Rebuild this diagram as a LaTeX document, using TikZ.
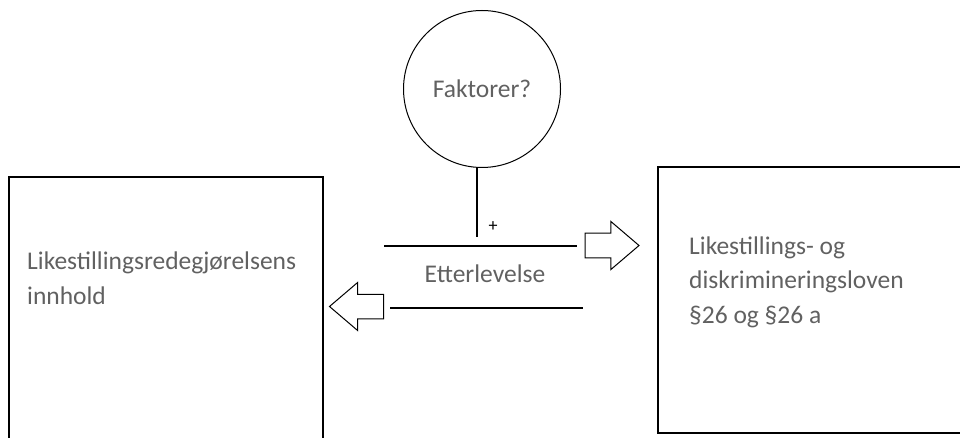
\documentclass[tikz,border=0pt]{standalone}
\usepackage{fontspec}
\setmainfont{Carlito}
\usetikzlibrary{shapes.arrows}
\begin{document}
\begin{tikzpicture}[x=1pt,y=-1pt,
  txt/.style={text=black!62,font=\fontsize{25.5}{34.5}\selectfont,inner sep=0pt,align=left},
  box/.style={draw,line width=1.2pt,inner sep=0pt},
  strek/.style={line width=1.2pt},
  blokkpil/.style={draw,line width=1pt,single arrow,inner xsep=0pt,inner ysep=11.75pt,minimum height=54pt,
    single arrow head extend=11.75pt,single arrow tip angle=81,outer sep=0pt}]
  \useasboundingbox(0,0)rectangle(960,438);
  \clip(0,0)rectangle(960,438);
  % boksene
  \node[box,minimum width=314pt,minimum height=300pt] (redeg) at (166,327) {};
  \node[box,minimum width=342pt,minimum height=266pt] (lov) at (829,300) {};
  \node[txt,anchor=base west] (redegtxt) at (27,304) {Likestillingsredegjørelsens\\innhold};
  \node[txt,anchor=base west] (lovtxt) at (689,323) {Likestillings- og\\diskrimineringsloven\\§26 og §26 a};
  % faktorer
  \node[draw,circle,line width=1pt,minimum size=157pt,txt,align=center] (faktor) at (482,89) {Faktorer?};
  \coordinate (stamme) at (477,237);
  \draw[strek] (stamme |- faktor.south) -- (stamme);
  \node[font=\fontsize{18}{18}\selectfont,inner sep=0pt] (pluss) at (493,227) {+};
  % etterlevelse
  \coordinate (ovA) at (384,246);
  \coordinate (ovB) at (577,246);
  \coordinate (nedA) at (390,308);
  \coordinate (nedB) at (583,308);
  \draw[strek] (ovA) -- (ovB);
  \draw[strek] (nedA) -- (nedB);
  \node[txt,anchor=base] (etterlevelse) at (485,282) {Etterlevelse};
  \node[blokkpil,anchor=tail] (tilLov) at (585,245.5) {};
  \node[blokkpil,shape border rotate=180,anchor=tail] (tilRedeg) at (383.5,306.5) {};
\end{tikzpicture}
\end{document}
